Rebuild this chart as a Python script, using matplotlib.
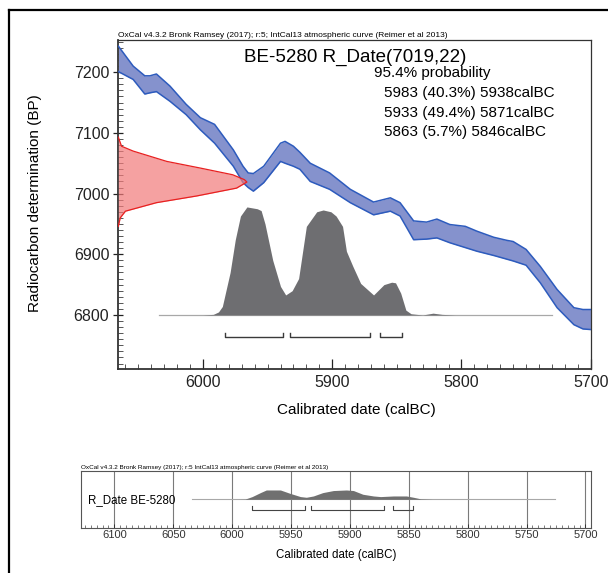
import matplotlib
matplotlib.use("Agg")
import matplotlib.pyplot as plt
from matplotlib.lines import Line2D
from matplotlib.ticker import MultipleLocator

plt.rcParams['font.family'] = ['Liberation Sans', 'DejaVu Sans']

# ---------------- data ----------------
# IntCal13 calibration band (upper / lower edges), calBC vs BP
cal_years = [6065.5, 6054, 6045, 6041, 6036, 6025.5, 6013, 6002, 5991, 5976.5, 5969, 5965, 5961,
             5953, 5940, 5936.5, 5930, 5925, 5917, 5902, 5886, 5868, 5855, 5847.5, 5837, 5827,
             5819, 5809, 5797, 5788, 5775, 5765, 5760, 5750, 5739, 5726, 5713, 5706, 5700]
cal_upper = [7243, 7210, 7194, 7194, 7197, 7177, 7147, 7125, 7114, 7072, 7045, 7034, 7033,
             7045, 7083, 7086, 7078, 7068, 7050, 7034, 7007, 6986, 6993, 6985, 6955, 6953,
             6958, 6949, 6946, 6938, 6928, 6923, 6921, 6908, 6880, 6842, 6812, 6809, 6809]
cal_lower = [7201, 7188, 7164, 7166, 7168, 7152, 7130, 7105, 7083, 7045, 7018, 7010, 7004,
             7018, 7053, 7050, 7045, 7040, 7020, 7007, 6985, 6965, 6971, 6963, 6924, 6925,
             6927, 6919, 6911, 6905, 6898, 6892, 6889, 6882, 6853, 6812, 6784, 6777, 6776]

# Radiocarbon measurement distribution (red), BP vs extent (calBC)
rc_bp = [7093, 7078, 7070, 7053, 7042, 7031, 7023, 7019, 7009, 6996, 6985, 6971, 6960, 6946]
rc_extent = [6065.5, 6063, 6054, 6028, 6002, 5977, 5968, 5966, 5974, 6005, 6036, 6060, 6064, 6065.5]

# Calibrated probability distribution (grey, main plot), height above baseline in BP units
prob_years = [6034, 6000, 5992, 5988, 5985, 5979, 5975, 5971, 5966, 5958, 5955, 5952, 5946,
              5940, 5936, 5931, 5926, 5920, 5916, 5912, 5907, 5901, 5897, 5892, 5889, 5884,
              5878, 5868, 5860, 5854, 5851, 5847, 5843, 5839, 5830, 5822, 5815, 5805, 5730]
prob_height = [0, 0, 1, 5, 14, 70, 124, 163, 178, 175, 172, 150, 90,
               47, 33, 40, 60, 146, 158, 170, 173, 170, 163, 146, 105, 80,
               52, 33, 50, 54, 53, 36, 8, 2, 0, 3, 1, 0, 0]

# Smoothed distribution in the summary strip (height as fraction of strip height)
strip_years = [6034, 5995, 5989, 5983, 5976, 5971, 5959, 5951, 5942, 5937, 5931, 5923, 5914,
               5903, 5897, 5889, 5880, 5874, 5863, 5852, 5846, 5840, 5830, 5726]
strip_height = [0, 0, 0.003, 0.047, 0.117, 0.163, 0.163, 0.105, 0.047, 0.035, 0.058, 0.117, 0.153,
                0.163, 0.153, 0.088, 0.058, 0.047, 0.058, 0.058, 0.035, 0.008, 0, 0]

# 95.4% ranges
ranges = [(5983, 5938), (5933, 5871), (5863, 5846)]
range_texts = ["5983 (40.3%) 5938calBC", "5933 (49.4%) 5871calBC", "5863 (5.7%) 5846calBC"]

main_xticks = [6000, 5900, 5800, 5700]
main_yticks = [6800, 6900, 7000, 7100, 7200]
small_xticks = [6100, 6050, 6000, 5950, 5900, 5850, 5800, 5750, 5700]

W, H = 608, 573
fig = plt.figure(figsize=(W / 100, H / 100), dpi=100)

def fx(px):
    return px / W

def fy(py):
    return 1 - py / H

# outer frame
fig.add_artist(Line2D([fx(8.5), fx(8.5)], [0, fy(10)], transform=fig.transFigure, color='black', lw=1.6))
fig.add_artist(Line2D([fx(8.5), 1], [fy(10), fy(10)], transform=fig.transFigure, color='black', lw=1.6))

# ---------------- main axes ----------------
ax = fig.add_axes([fx(118.3), fy(369), fx(590.7) - fx(118.3), fy(40) - fy(369)])
ax.set_xlim(6065.5, 5700)
ax.set_ylim(6711, 7253)

ax.fill_between(cal_years, cal_lower, cal_upper, color='#8592cd', lw=0, zorder=2)
ax.plot(cal_years, cal_upper, color='#2d5bbd', lw=1.1, zorder=3)
ax.plot(cal_years, cal_lower, color='#2d5bbd', lw=1.1, zorder=3)

ax.fill_betweenx(rc_bp, 6065.5, rc_extent, color='#f27a7a', alpha=0.7, lw=0, zorder=4)
ax.plot(rc_extent, rc_bp, color='#e82020', lw=0.9, zorder=5)

ax.plot([prob_years[0], prob_years[-1]], [6800, 6800], color='#a8a8a8', lw=0.9, zorder=5)
ax.fill_between(prob_years, 6800, [6800 + h for h in prob_height], color='#6e6e71', lw=0, zorder=6)

for a, b in ranges:
    ax.plot([a, a, b, b], [6771, 6763, 6763, 6771], color='#3a3a3a', lw=1.0, zorder=6)

ax.set_xticks(main_xticks)
ax.set_yticks(main_yticks)
ax.xaxis.set_minor_locator(MultipleLocator(10))
ax.yaxis.set_minor_locator(MultipleLocator(10))
ax.tick_params(axis='x', which='major', direction='in', length=7, width=0.9, labelsize=11.5, pad=4, colors='#222222')
ax.tick_params(axis='x', which='minor', direction='in', length=3.5, width=0.7, colors='#555555')
ax.tick_params(axis='y', which='major', direction='inout', length=7, width=0.9, labelsize=11.5, pad=3, colors='#222222')
ax.tick_params(axis='y', which='minor', direction='in', length=3.5, width=0.7, colors='#555555')
for s in ax.spines.values():
    s.set_linewidth(0.9)
    s.set_color('#333333')
ax.spines['left'].set_linewidth(1.3)
ax.spines['bottom'].set_linewidth(1.3)

fig.text(fx(118.5), fy(39), "OxCal v4.3.2 Bronk Ramsey (2017); r:5; IntCal13 atmospheric curve (Reimer et al 2013)",
         fontsize=6.0, family=['Liberation Sans Narrow', 'Liberation Sans', 'DejaVu Sans'], ha='left', va='bottom')
fig.text(fx(355), fy(57.5), "BE-5280 R_Date(7019,22)", fontsize=13.5, ha='center', va='center')
fig.text(fx(374), fy(73), "95.4% probability", fontsize=11, ha='left', va='center')
for i, t in enumerate(range_texts):
    fig.text(fx(384), fy(93 + 19.5 * i), t, fontsize=11, ha='left', va='center')

fig.text(fx(356), fy(410), "Calibrated date (calBC)", fontsize=11, ha='center', va='center')
fig.text(fx(35), fy(203), "Radiocarbon determination (BP)", fontsize=11, ha='center', va='center', rotation=90)

# ---------------- summary strip ----------------
ax2 = fig.add_axes([fx(80.7), fy(528), fx(591.3) - fx(80.7), fy(471) - fy(528)])
ax2.set_xlim(6128.6, 5695)
ax2.set_ylim(0, 1)
ax2.set_yticks([])
ax2.set_xticks(small_xticks)
ax2.xaxis.set_minor_locator(MultipleLocator(5))
ax2.grid(axis='x', which='major', color='#7a7a7a', lw=0.8)
ax2.tick_params(axis='x', which='major', direction='in', length=3, width=0.7, labelsize=8, pad=1.5, colors='#333333')
ax2.tick_params(axis='x', which='minor', direction='in', length=2.2, width=0.6, colors='#666666')
for s in ax2.spines.values():
    s.set_linewidth(0.8)
    s.set_color('#555555')

base = 0.504
ax2.plot([strip_years[0], strip_years[-1]], [base, base], color='#a8a8a8', lw=0.8, zorder=3)
ax2.fill_between(strip_years, base, [base + h for h in strip_height], color='#707070', lw=0, zorder=4)
for a, b in ranges:
    ax2.plot([a, a, b, b], [0.39, 0.32, 0.32, 0.39], color='#444444', lw=0.8, zorder=4)

fig.text(fx(81), fy(470), "OxCal v4.3.2 Bronk Ramsey (2017); r:5 IntCal13 atmospheric curve (Reimer et al 2013)",
         fontsize=4.6, family=['Liberation Sans Narrow', 'Liberation Sans', 'DejaVu Sans'], ha='left', va='bottom')
fig.text(fx(88), fy(500), "R_Date BE-5280", fontsize=8.3, ha='left', va='center')
fig.text(fx(336), fy(555), "Calibrated date (calBC)", fontsize=8.3, ha='center', va='center')

fig.savefig("out.png", dpi=100)
